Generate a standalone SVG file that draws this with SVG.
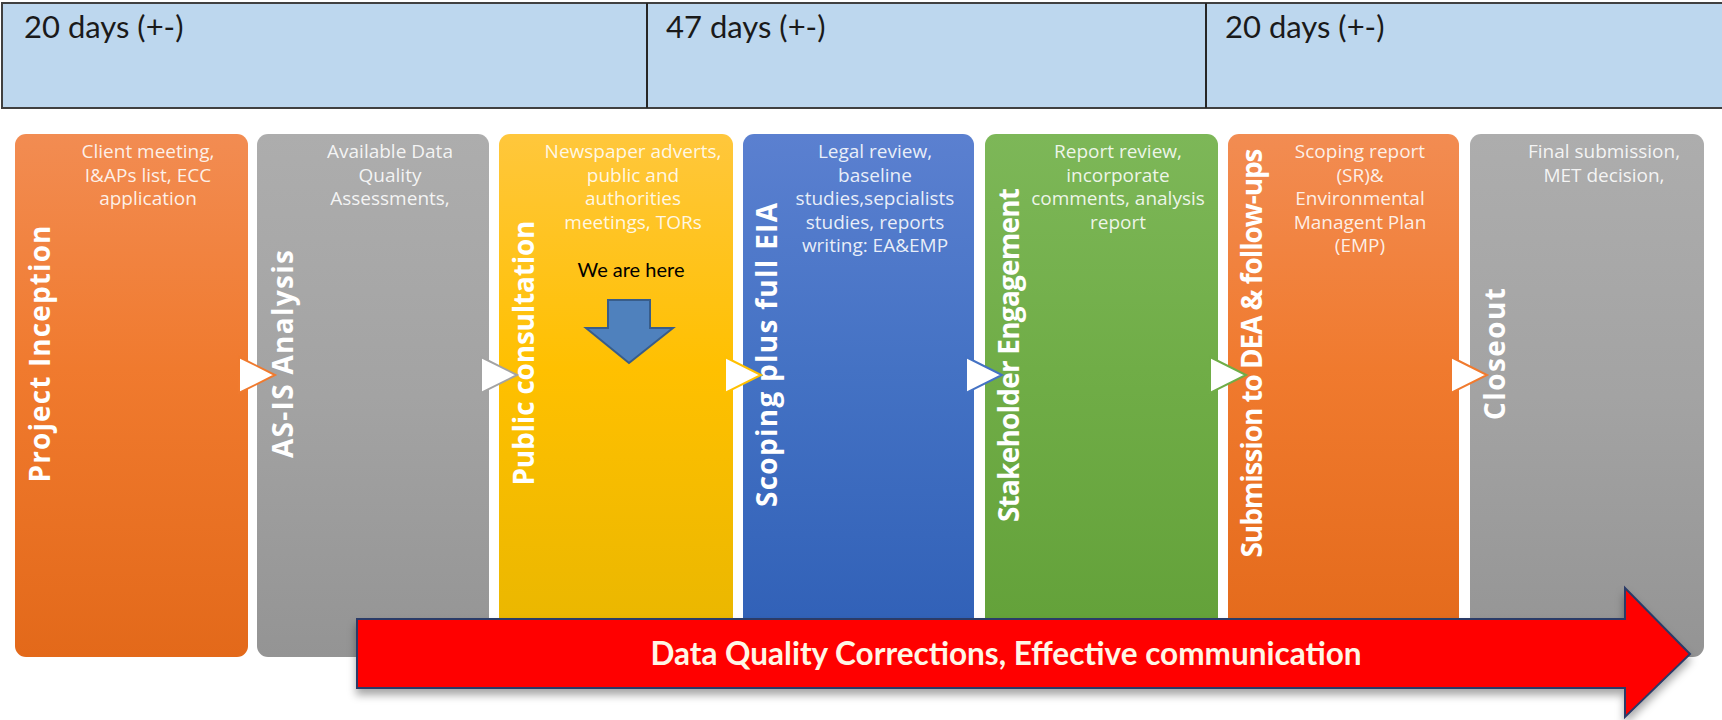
<svg xmlns="http://www.w3.org/2000/svg" width="1722" height="720" viewBox="0 0 1722 720">
<defs>
<linearGradient id="gOrange" x1="0" y1="0" x2="0" y2="1"><stop offset="0" stop-color="#F28C52"/><stop offset="0.45" stop-color="#F07A2E"/><stop offset="1" stop-color="#E3691A"/></linearGradient>
<linearGradient id="gGray" x1="0" y1="0" x2="0" y2="1"><stop offset="0" stop-color="#ADADAD"/><stop offset="0.5" stop-color="#A3A3A3"/><stop offset="1" stop-color="#949494"/></linearGradient>
<linearGradient id="gYellow" x1="0" y1="0" x2="0" y2="1"><stop offset="0" stop-color="#FFC73C"/><stop offset="0.45" stop-color="#FFC000"/><stop offset="1" stop-color="#E8B600"/></linearGradient>
<linearGradient id="gBlue" x1="0" y1="0" x2="0" y2="1"><stop offset="0" stop-color="#5B80D0"/><stop offset="0.45" stop-color="#4472C4"/><stop offset="1" stop-color="#2F5FB6"/></linearGradient>
<linearGradient id="gGreen" x1="0" y1="0" x2="0" y2="1"><stop offset="0" stop-color="#7DB758"/><stop offset="0.45" stop-color="#70AD47"/><stop offset="1" stop-color="#62A038"/></linearGradient>
<filter id="shadow" x="-5%" y="-30%" width="110%" height="170%"><feDropShadow dx="0" dy="6" stdDeviation="4" flood-color="#000" flood-opacity="0.35"/></filter>
</defs>
<style>
.days{font-family:Lato,"Liberation Sans",sans-serif;font-size:31px;fill:#1a1a1a}
.title{font-family:"Open Sans","Liberation Sans",sans-serif;font-weight:bold;font-size:28px;fill:#fff;text-anchor:middle}
.desc{font-family:"Open Sans","Liberation Sans",sans-serif;font-size:19px;fill:#fff;fill-opacity:0.88;text-anchor:middle}
.tri{fill:#fff;stroke-width:2}
.here{font-family:Lato,"Liberation Sans",sans-serif;font-size:20px;fill:#000;text-anchor:middle}
.banner{font-family:Lato,"Liberation Sans",sans-serif;font-weight:bold;font-size:31.5px;fill:#FFF6E6;text-anchor:middle}
</style>
<rect x="0" y="0" width="1722" height="720" fill="#fff"/>
<g id="timeline">
<rect x="2" y="3" width="1730" height="105" fill="#BDD7EE" stroke="#404040" stroke-width="2"/>
<line x1="647" y1="3" x2="647" y2="108" stroke="#262626" stroke-width="2"/>
<line x1="1206" y1="3" x2="1206" y2="108" stroke="#262626" stroke-width="2"/>
<text class="days" x="24" y="38">20 days (+-)</text>
<text class="days" x="666" y="38">47 days (+-)</text>
<text class="days" x="1225" y="38">20 days (+-)</text>
</g>
<g id="col1">
<rect x="15" y="134" width="233" height="523" rx="11" fill="url(#gOrange)"/>
<text class="title" transform="translate(50,354) rotate(-90)" textLength="257" lengthAdjust="spacing">Project Inception</text>
<text class="desc"><tspan x="148" y="158">Client meeting,</tspan><tspan x="148" y="181.5">I&amp;APs list, ECC</tspan><tspan x="148" y="205">application</tspan></text>
</g>
<g id="col2">
<rect x="257" y="134" width="232" height="523" rx="11" fill="url(#gGray)"/>
<text class="title" transform="translate(293,354) rotate(-90)" textLength="208" lengthAdjust="spacing">AS-IS Analysis</text>
<text class="desc"><tspan x="390" y="158">Available Data</tspan><tspan x="390" y="181.5">Quality</tspan><tspan x="390" y="205">Assessments,</tspan></text>
</g>
<g id="col3">
<rect x="499" y="134" width="234" height="523" rx="11" fill="url(#gYellow)"/>
<text class="title" transform="translate(534,353) rotate(-90)" textLength="265" lengthAdjust="spacing">Public consultation</text>
<text class="desc"><tspan x="633" y="158">Newspaper adverts,</tspan><tspan x="633" y="181.5">public and</tspan><tspan x="633" y="205">authorities</tspan><tspan x="633" y="228.5">meetings, TORs</tspan></text>
<text class="here" x="631" y="277">We are here</text>
<path d="M608,300 L650,300 L650,328 L673,328 L629,363 L586,328 L608,328 Z" fill="#4F81BD" stroke="#385D8A" stroke-width="2"/>
</g>
<g id="col4">
<rect x="743" y="134" width="231" height="523" rx="11" fill="url(#gBlue)"/>
<text class="title" transform="translate(777,355) rotate(-90)" textLength="304" lengthAdjust="spacing">Scoping plus full EIA</text>
<text class="desc"><tspan x="875" y="158">Legal review,</tspan><tspan x="875" y="181.5">baseline</tspan><tspan x="875" y="205">studies,sepcialists</tspan><tspan x="875" y="228.5">studies, reports</tspan><tspan x="875" y="252">writing: EA&amp;EMP</tspan></text>
</g>
<g id="col5">
<rect x="985" y="134" width="233" height="523" rx="11" fill="url(#gGreen)"/>
<text class="title" transform="translate(1019,355) rotate(-90)" textLength="334" lengthAdjust="spacing">Stakeholder Engagement</text>
<text class="desc"><tspan x="1118" y="158">Report review,</tspan><tspan x="1118" y="181.5">incorporate</tspan><tspan x="1118" y="205">comments, analysis</tspan><tspan x="1118" y="228.5">report</tspan></text>
</g>
<g id="col6">
<rect x="1228" y="134" width="231" height="523" rx="11" fill="url(#gOrange)"/>
<text class="title" transform="translate(1262,353) rotate(-90)" textLength="409" lengthAdjust="spacing">Submission to DEA &amp; follow-ups</text>
<text class="desc"><tspan x="1360" y="158">Scoping report</tspan><tspan x="1360" y="181.5">(SR)&amp;</tspan><tspan x="1360" y="205">Environmental</tspan><tspan x="1360" y="228.5">Managent Plan</tspan><tspan x="1360" y="252">(EMP)</tspan></text>
</g>
<g id="col7">
<rect x="1470" y="134" width="234" height="523" rx="11" fill="url(#gGray)"/>
<text class="title" transform="translate(1505,354) rotate(-90)" textLength="132" lengthAdjust="spacing">Closeout</text>
<text class="desc"><tspan x="1604" y="158">Final submission,</tspan><tspan x="1604" y="181.5">MET decision,</tspan></text>
</g>
<g id="connectors">
<path class="tri" d="M239,357 L275,375 L239,393 Z" stroke="#F07A2E"/>
<path class="tri" d="M481,357 L517,375 L481,393 Z" stroke="#A3A3A3"/>
<path class="tri" d="M725,357 L761,375 L725,393 Z" stroke="#FFC000"/>
<path class="tri" d="M966,357 L1002,375 L966,393 Z" stroke="#4472C4"/>
<path class="tri" d="M1210,357 L1246,375 L1210,393 Z" stroke="#70AD47"/>
<path class="tri" d="M1451,357 L1487,375 L1451,393 Z" stroke="#F07A2E"/>
</g>
<g id="banner">
<path d="M357,619 L1625,619 L1625,588 L1690,654 L1625,717 L1625,688 L357,688 Z" fill="#FF0000" stroke="#2B3A67" stroke-width="2" filter="url(#shadow)"/>
<text class="banner" x="1006" y="665">Data Quality Corrections, Effective communication</text>
</g>
</svg>
